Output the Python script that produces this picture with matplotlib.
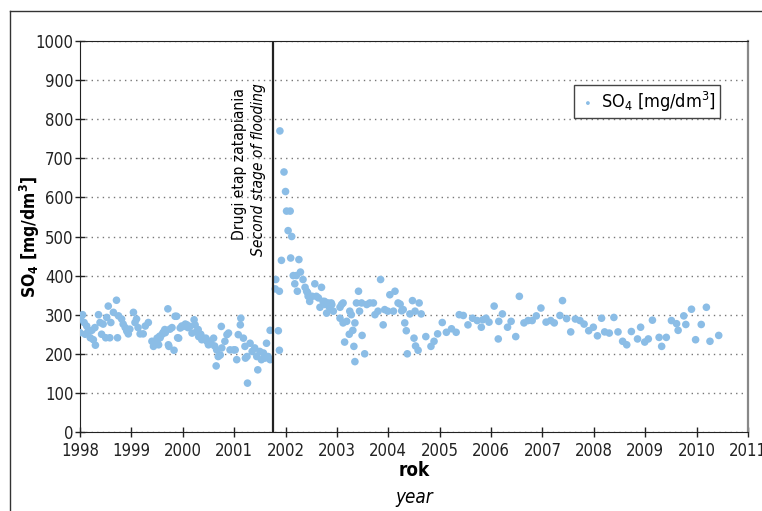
import matplotlib
matplotlib.use("Agg")
import matplotlib.pyplot as plt
from matplotlib.lines import Line2D
from matplotlib import font_manager

# look for a narrow / condensed face; fall back to Roboto
narrow = [f for f in font_manager.fontManager.ttflist
          if 'Narrow' in f.name or 'Condensed' in f.name or f.stretch in ('condensed', 'semi-condensed')]
if narrow:
    font = narrow[0].name
    stretch = narrow[0].stretch
    scale = 1.0
else:
    font = 'Roboto'
    stretch = 'normal'
    scale = 0.9
plt.rcParams['font.family'] = [font, 'DejaVu Sans']
plt.rcParams['font.stretch'] = stretch
plt.rcParams['mathtext.fontset'] = 'custom'
plt.rcParams['mathtext.rm'] = font
plt.rcParams['mathtext.it'] = font + ':italic'
plt.rcParams['mathtext.bf'] = font + ':bold'

# decimal year, SO4 [mg/dm3]
years = [
    1998.00, 1998.00, 1998.03, 1998.05, 1998.08, 1998.10, 1998.13, 1998.16, 1998.20, 1998.23,
    1998.26, 1998.29, 1998.30, 1998.36, 1998.39, 1998.42, 1998.45, 1998.50, 1998.52, 1998.55,
    1998.58, 1998.60, 1998.65, 1998.71, 1998.73, 1998.75, 1998.81, 1998.84, 1998.88, 1998.91,
    1998.94, 1998.97, 1999.04, 1999.07, 1999.10, 1999.13, 1999.17, 1999.23, 1999.27, 1999.33,
    1999.40, 1999.43, 1999.45, 1999.46, 1999.50, 1999.50, 1999.53, 1999.55, 1999.56, 1999.60,
    1999.62, 1999.65, 1999.66,
    1999.71, 1999.72, 1999.73, 1999.75, 1999.79, 1999.83, 1999.85, 1999.88, 1999.90, 1999.92,
    1999.95, 1999.98, 2000.01, 2000.05, 2000.08, 2000.10, 2000.14, 2000.18, 2000.22, 2000.24,
    2000.27, 2000.30, 2000.31, 2000.35, 2000.37, 2000.40, 2000.45, 2000.47, 2000.50, 2000.53,
    2000.55, 2000.60, 2000.62, 2000.65, 2000.66, 2000.69, 2000.73, 2000.75, 2000.76, 2000.82,
    2000.86, 2000.89, 2000.92, 2000.99, 2001.02, 2001.05, 2001.08, 2001.12, 2001.13, 2001.18,
    2001.21, 2001.22, 2001.25, 2001.26, 2001.31, 2001.35, 2001.40, 2001.44, 2001.46, 2001.50,
    2001.53, 2001.57, 2001.60, 2001.63, 2001.66, 2001.70, 2001.70,
    2001.80, 2001.81, 2001.86, 2001.88, 2001.88, 2001.89, 2001.92, 2001.97, 2002.00, 2002.02,
    2002.05, 2002.09, 2002.10, 2002.12, 2002.15, 2002.18, 2002.21, 2002.23, 2002.26, 2002.29,
    2002.34, 2002.38, 2002.41, 2002.43, 2002.44, 2002.47, 2002.52, 2002.57, 2002.60, 2002.64,
    2002.67, 2002.70, 2002.73, 2002.76, 2002.77, 2002.80, 2002.83, 2002.86, 2002.89, 2002.90,
    2002.93, 2003.06, 2003.06, 2003.09, 2003.12, 2003.12, 2003.15, 2003.19, 2003.24, 2003.25,
    2003.28, 2003.31, 2003.33, 2003.35, 2003.35, 2003.38, 2003.42, 2003.44, 2003.48, 2003.49,
    2003.54, 2003.58, 2003.64, 2003.71, 2003.74, 2003.80, 2003.85, 2003.90, 2003.93, 2003.99,
    2004.03, 2004.10, 2004.13, 2004.19, 2004.23, 2004.26, 2004.29, 2004.32, 2004.35, 2004.37,
    2004.42, 2004.47, 2004.50, 2004.52, 2004.53, 2004.58, 2004.60, 2004.64, 2004.73, 2004.83,
    2004.89, 2004.96,
    2005.05, 2005.13, 2005.23, 2005.32, 2005.38, 2005.46, 2005.55, 2005.64, 2005.73, 2005.81,
    2005.84, 2005.90, 2005.96, 2006.06, 2006.14, 2006.15, 2006.22, 2006.32, 2006.39, 2006.48,
    2006.55, 2006.64, 2006.72, 2006.80, 2006.88, 2006.97, 2007.07, 2007.16, 2007.23,
    2007.34, 2007.39, 2007.47, 2007.55, 2007.64, 2007.73, 2007.81, 2007.90, 2007.99, 2008.07,
    2008.15, 2008.21, 2008.30, 2008.39, 2008.47, 2008.56, 2008.64, 2008.73, 2008.85, 2008.91,
    2008.99, 2009.06, 2009.14, 2009.27, 2009.32, 2009.41, 2009.51, 2009.61, 2009.64, 2009.75,
    2009.79, 2009.90, 2009.98, 2010.09, 2010.19, 2010.26, 2010.43,
]
so4 = [
    289, 254, 297, 300, 280, 250, 271, 258, 241, 260,
    236, 267, 222, 300, 280, 250, 276, 241, 293, 322,
    241, 280, 306, 337, 241, 297, 289, 276, 267, 258,
    251, 263, 306, 280, 289, 267, 251, 251, 271, 280,
    232, 219, 225, 228, 232, 240, 223, 245, 241, 250,
    255, 262, 254,
    315, 223, 219, 263, 267, 209, 296, 296, 241, 240,
    266, 271, 270, 276, 274, 267, 270, 253, 287, 274,
    257, 262, 244, 250, 236, 240, 240, 232, 223, 232,
    226, 240, 220, 169, 210, 193, 197, 270, 215, 232,
    249, 253, 210, 210, 210, 185, 249, 274, 291, 240,
    219, 189, 193, 125, 227, 206, 215, 193, 159, 206,
    185, 202, 189, 227, 193, 260, 185,
    366, 390, 259, 209, 360, 770, 439, 665, 615, 565,
    515, 565, 445, 500, 400, 379, 400, 360, 441, 409,
    390, 370, 360, 356, 347, 334, 347, 379, 347, 343,
    319, 370, 334, 334, 326, 304, 330, 317, 330, 326,
    309, 291, 319, 326, 330, 279, 230, 283, 250, 309,
    300, 260, 219, 180, 279, 330, 360, 309, 330, 247,
    200, 326, 330, 330, 300, 309, 390, 274, 313, 309,
    351, 309, 360, 330, 327, 310, 313, 279, 259, 200,
    302, 336, 240, 309, 220, 209, 330, 302, 244, 219,
    232, 251,
    280, 255, 264, 255, 300, 298, 274, 291, 285, 268,
    287, 291, 281, 322, 238, 283, 302, 268, 283, 244,
    347, 279, 285, 285, 297, 317, 281, 285, 279,
    298, 336, 290, 256, 289, 285, 276, 259, 268, 246,
    291, 256, 253, 293, 256, 232, 223, 257, 238, 268,
    230, 238, 286, 242, 219, 242, 285, 277, 260, 297,
    275, 314, 236, 275, 319, 232, 247,
]

flood_start = 2001.75
year_ticks = list(range(1998, 2012))

fig = plt.figure(figsize=(7.62, 5.11), dpi=100)
ax = fig.add_axes([80/762, 1-432/511, 668/762, 391/511])

ax.scatter(years, so4, s=30, color='#8bbde6', edgecolors='none', zorder=3,
           label=r'SO$_4$ [mg/dm$^3$]')
ax.axvline(flood_start, color='#222222', lw=1.6, zorder=4)

ax.set_xlim(1998, 2011)
ax.set_ylim(0, 1000)
ax.set_xticks(year_ticks)
ax.set_yticks(range(0, 1001, 100))
ax.tick_params(direction='inout', length=7, width=1, labelsize=12*scale, colors='#222222')
ax.tick_params(axis='x', pad=4)
ax.tick_params(axis='y', pad=1)
ax.yaxis.grid(True, linestyle=(0, (1, 3)), color='#777777', lw=1)
ax.set_axisbelow(True)
for side in ['left', 'bottom', 'top']:
    ax.spines[side].set_color('#222222')
ax.spines['right'].set_color('#888888')
ax.spines['right'].set_linewidth(1.6)

ax.set_ylabel(r'SO$_\mathbf{4}$ [mg/dm$^\mathbf{3}$]', fontsize=12.5*scale, fontweight='bold')
ax.yaxis.set_label_coords(-38/668, 0.5)

ax.text(2001.11, 491, 'Drugi etap zatapiania', rotation=90, ha='center', va='bottom',
        fontsize=11.2*scale)
ax.text(2001.47, 450, 'Second stage of flooding', rotation=90, ha='center', va='bottom',
        fontsize=11.2*scale, style='italic')

leg = ax.legend(loc='upper right', bbox_to_anchor=(0.958, 0.887), fontsize=13*scale,
                handletextpad=0.2, markerscale=0.5, borderpad=0.25, fancybox=False,
                framealpha=1, borderaxespad=0, handlelength=1.0)
leg.get_frame().set_edgecolor('#444444')
leg.get_frame().set_linewidth(1)

fig.text(414/762, 1-470/511, 'rok', ha='center', va='center', fontsize=13.5*scale, fontweight='bold')
fig.text(414/762, 1-497/511, 'year', ha='center', va='center', fontsize=13.5*scale, style='italic')

# outer frame (only top and left show in the original)
fig.add_artist(Line2D([10/762, 1], [1-11/511, 1-11/511], color='#333333', lw=1))
fig.add_artist(Line2D([10/762, 10/762], [0, 1-11/511], color='#333333', lw=1))

fig.savefig('out.png', dpi=100)
